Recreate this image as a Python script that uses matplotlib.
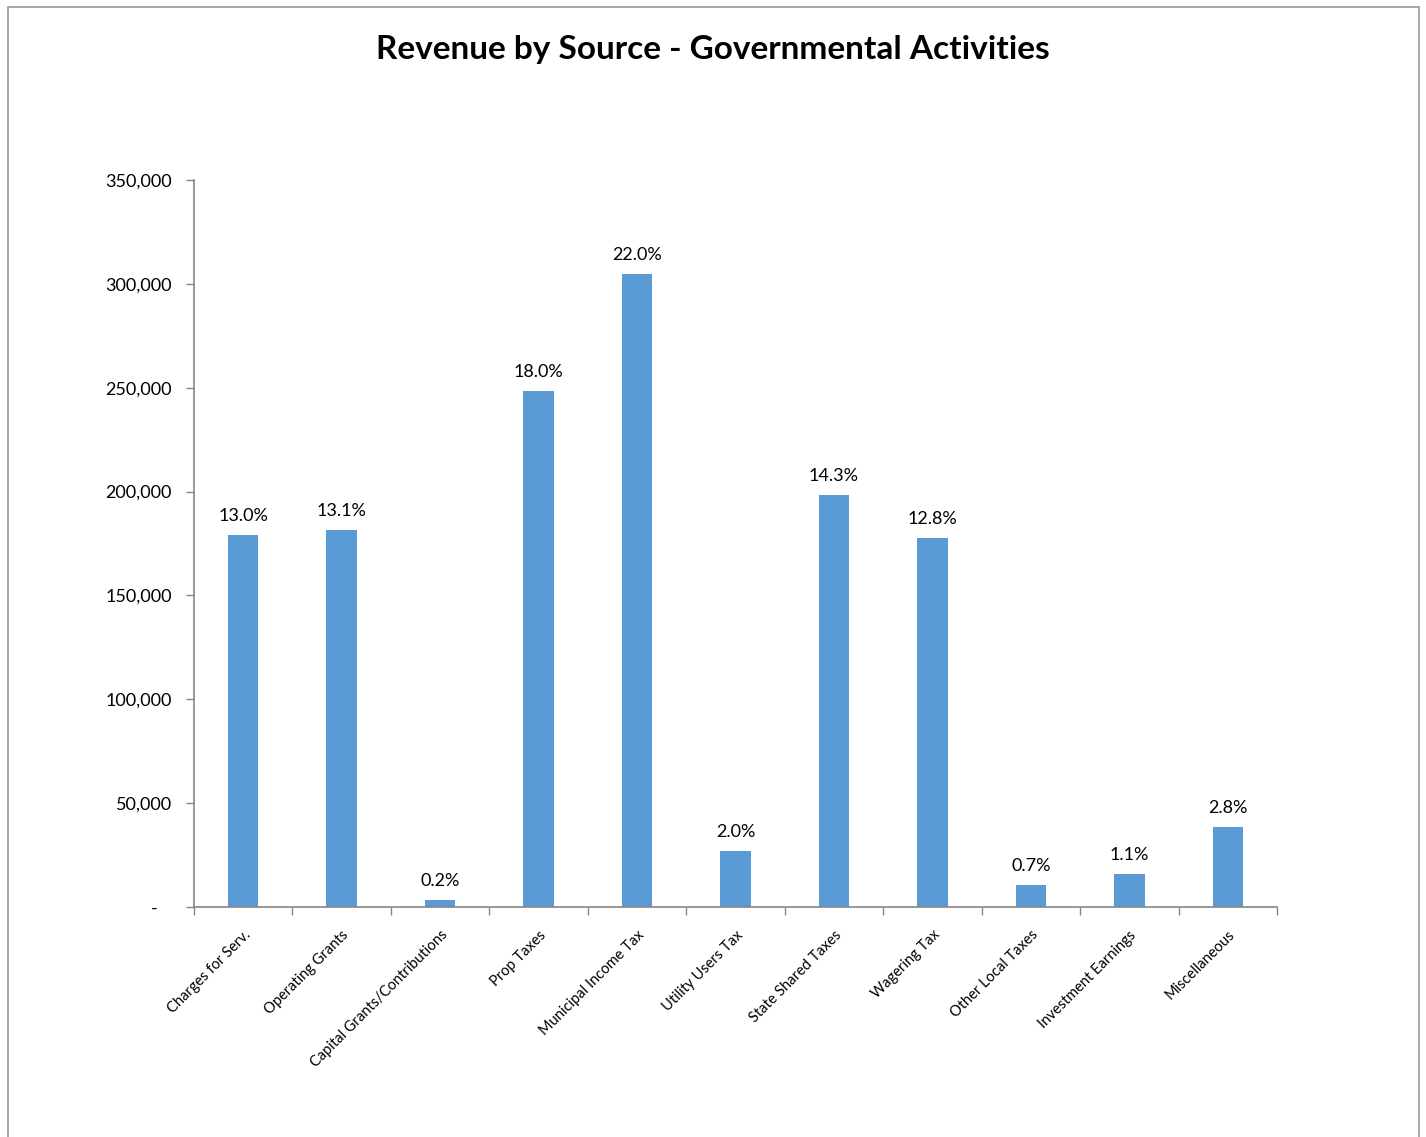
import numpy as np
import matplotlib.pyplot as plt
from matplotlib.ticker import FuncFormatter, FixedLocator
from matplotlib.patches import Rectangle

CATEGORIES = ['Charges for Serv.', 'Operating Grants', 'Capital Grants/Contributions',
              'Prop Taxes', 'Municipal Income Tax', 'Utility Users Tax',
              'State Shared Taxes', 'Wagering Tax', 'Other Local Taxes',
              'Investment Earnings', 'Miscellaneous']
VALUES = [179000, 181500, 3400, 248400, 304700, 27000, 198300, 177600, 10600, 15900, 38500]
PCT_LABELS = ['13.0%', '13.1%', '0.2%', '18.0%', '22.0%', '2.0%',
              '14.3%', '12.8%', '0.7%', '1.1%', '2.8%']
Y_TICKS = [0, 50000, 100000, 150000, 200000, 250000, 300000, 350000]

BAR_COLOR = '#5B9BD5'
AXIS_COLOR = '#868686'

plt.rcParams['font.family'] = ['Lato', 'DejaVu Sans']

fig = plt.figure(figsize=(14.26, 11.37), dpi=100)
# chart frame: open at the bottom (cut off by the image edge)
fig.patches.append(Rectangle((8/1426, -0.02), 1411/1426, 1.02 - 7/1137, transform=fig.transFigure,
                             fill=False, edgecolor='#a0a0a0', linewidth=1.3))
ax = fig.add_axes([194/1426, 1 - 907/1137, 1083/1426, 727/1137])

x = np.arange(len(CATEGORIES))
bars = ax.bar(x, VALUES, width=0.31, color=BAR_COLOR, zorder=2)

for b, lab in zip(bars, PCT_LABELS):
    ax.annotate(lab, (b.get_x() + b.get_width() / 2, b.get_height()),
                xytext=(0, 8), textcoords='offset points',
                ha='center', va='bottom', fontsize=13)

ax.set_xlim(-0.5, len(CATEGORIES) - 0.5)
ax.set_ylim(0, 350000)
ax.set_yticks(Y_TICKS)
# accounting style: zero shown as a dash set in from the right
ax.yaxis.set_major_formatter(FuncFormatter(lambda v, p: '-   ' if v == 0 else '{:,.0f}'.format(v)))
ax.tick_params(axis='y', direction='out', length=6, width=1, color=AXIS_COLOR,
               labelsize=13, pad=10)

ax.set_xticks(x)
ax.set_xticklabels(CATEGORIES, rotation=45, ha='right', rotation_mode='anchor', fontsize=10.5)
ax.tick_params(axis='x', which='major', length=0, pad=15)
ax.xaxis.set_minor_locator(FixedLocator(np.arange(-0.5, len(CATEGORIES), 1)))
ax.tick_params(axis='x', which='minor', direction='out', length=6, width=1, color=AXIS_COLOR)

for s in ['top', 'right']:
    ax.spines[s].set_visible(False)
for s in ['left', 'bottom']:
    ax.spines[s].set_color(AXIS_COLOR)
    ax.spines[s].set_linewidth(1.2)

fig.text(0.5, 1 - 50/1137, 'Revenue by Source - Governmental Activities',
         ha='center', va='center', fontsize=24, fontweight='bold')

fig.savefig('out.png', dpi=100)
